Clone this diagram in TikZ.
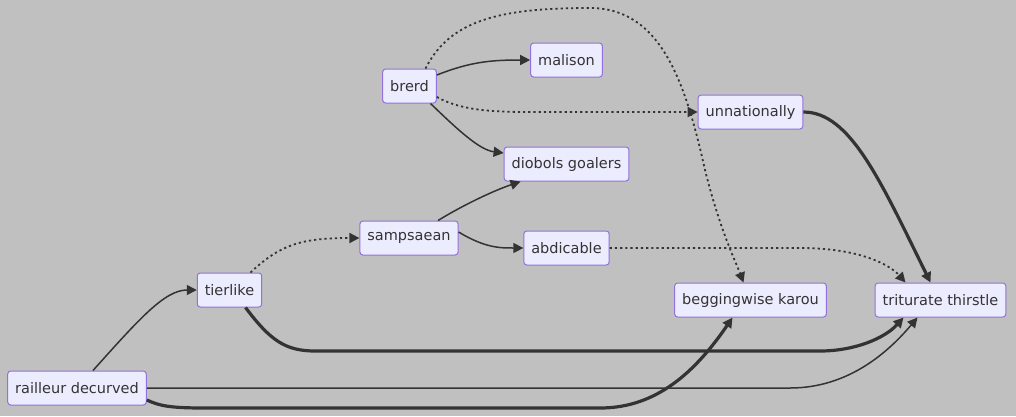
\documentclass[tikz,border=0pt]{standalone}
\usepackage{fontspec}
\setmainfont{DejaVu Sans}
\usetikzlibrary{arrows.meta}
\definecolor{BG}{RGB}{192,192,192}
\definecolor{NF}{RGB}{236,236,255}
\definecolor{NB}{RGB}{147,112,219}
\definecolor{LN}{RGB}{51,51,51}
\tikzset{
  box/.style={draw=NB, fill=NF, line width=1pt, rounded corners=3pt,
              minimum height=34pt, inner xsep=7.5pt, text=LN,
              font=\fontsize{14.5}{16}\selectfont},
  link/.style={draw=LN, line width=1.5pt, -{Triangle[length=10pt,width=10pt]}},
  thicklink/.style={link, line width=3.2pt},
  dotlink/.style={link, line width=1.8pt, dash pattern=on 2.2pt off 3pt}
}
\begin{document}
\begin{tikzpicture}[x=1pt,y=-1pt]
      \useasboundingbox[fill=BG] (0,0) rectangle (1016,416);
      % nodes
      \node[box] (brerd) at (409.5,86) {brerd};
      \node[box] (malison) at (566.5,60) {malison};
      \node[box] (diobols) at (566.5,164) {diobols goalers};
      \node[box] (unnat) at (750.5,112) {unnationally};
      \node[box] (sampsaean) at (409,238) {sampsaean};
      \node[box] (abdicable) at (566.5,248) {abdicable};
      \node[box] (tierlike) at (229.5,290) {tierlike};
      \node[box] (begging) at (750.5,300) {beggingwise karou};
      \node[box] (triturate) at (940.5,300) {triturate thirstle};
      \node[box] (railleur) at (77,388) {railleur decurved};
      % links
      \draw[link] ([xshift=16pt]railleur.north) .. controls (140,318) and (165,290) .. (tierlike.west);
      \draw[dotlink] ([xshift=21pt]tierlike.north) .. controls (280,245) and (300,238) .. (sampsaean.west);
      \draw[link] ([xshift=29pt]sampsaean.north) .. controls (460,207) and (490,192) .. ([xshift=-46pt]diobols.south);
      \draw[link] ([yshift=6pt]sampsaean.east) .. controls (485,248) and (500,248) .. (abdicable.west);
      \draw[link] ([yshift=11pt]brerd.east) .. controls (470,62) and (490,60) .. (malison.west);
      \draw[link] ([xshift=21pt]brerd.south) .. controls (460,132) and (480,150) .. ([yshift=11pt]diobols.west);
      \draw[dotlink] ([yshift=-11pt]brerd.east) .. controls (460,110) and (490,112) .. (530,112) -- (unnat.west);
      \draw[dotlink] ([xshift=16pt]brerd.north) .. controls (450,20) and (500,8) .. (590,8)
            .. controls (660,8) and (685,80) .. (705,170) .. controls (720,230) and (735,260) .. ([xshift=-7pt]begging.north);
      \draw[thicklink] (unnat.east) .. controls (850,112) and (880,180) .. ([xshift=-10pt]triturate.north);
      \draw[dotlink] (abdicable.east) -- (800,248) .. controls (860,248) and (890,265) .. ([xshift=-35pt]triturate.north);
      \draw[thicklink] ([xshift=16pt]tierlike.south) .. controls (270,340) and (285,351) .. (315,351)
            -- (820,351) .. controls (855,351) and (885,338) .. ([xshift=-37pt]triturate.south);
      \draw[link] (railleur.east) -- (790,388) .. controls (850,388) and (890,350) .. ([xshift=-23pt]triturate.south);
      \draw[thicklink] ([yshift=-12pt]railleur.east) .. controls (160,406) and (170,408) .. (205,408)
            -- (600,408) .. controls (650,408) and (690,380) .. ([xshift=-18pt]begging.south);
    \end{tikzpicture}
\end{document}
